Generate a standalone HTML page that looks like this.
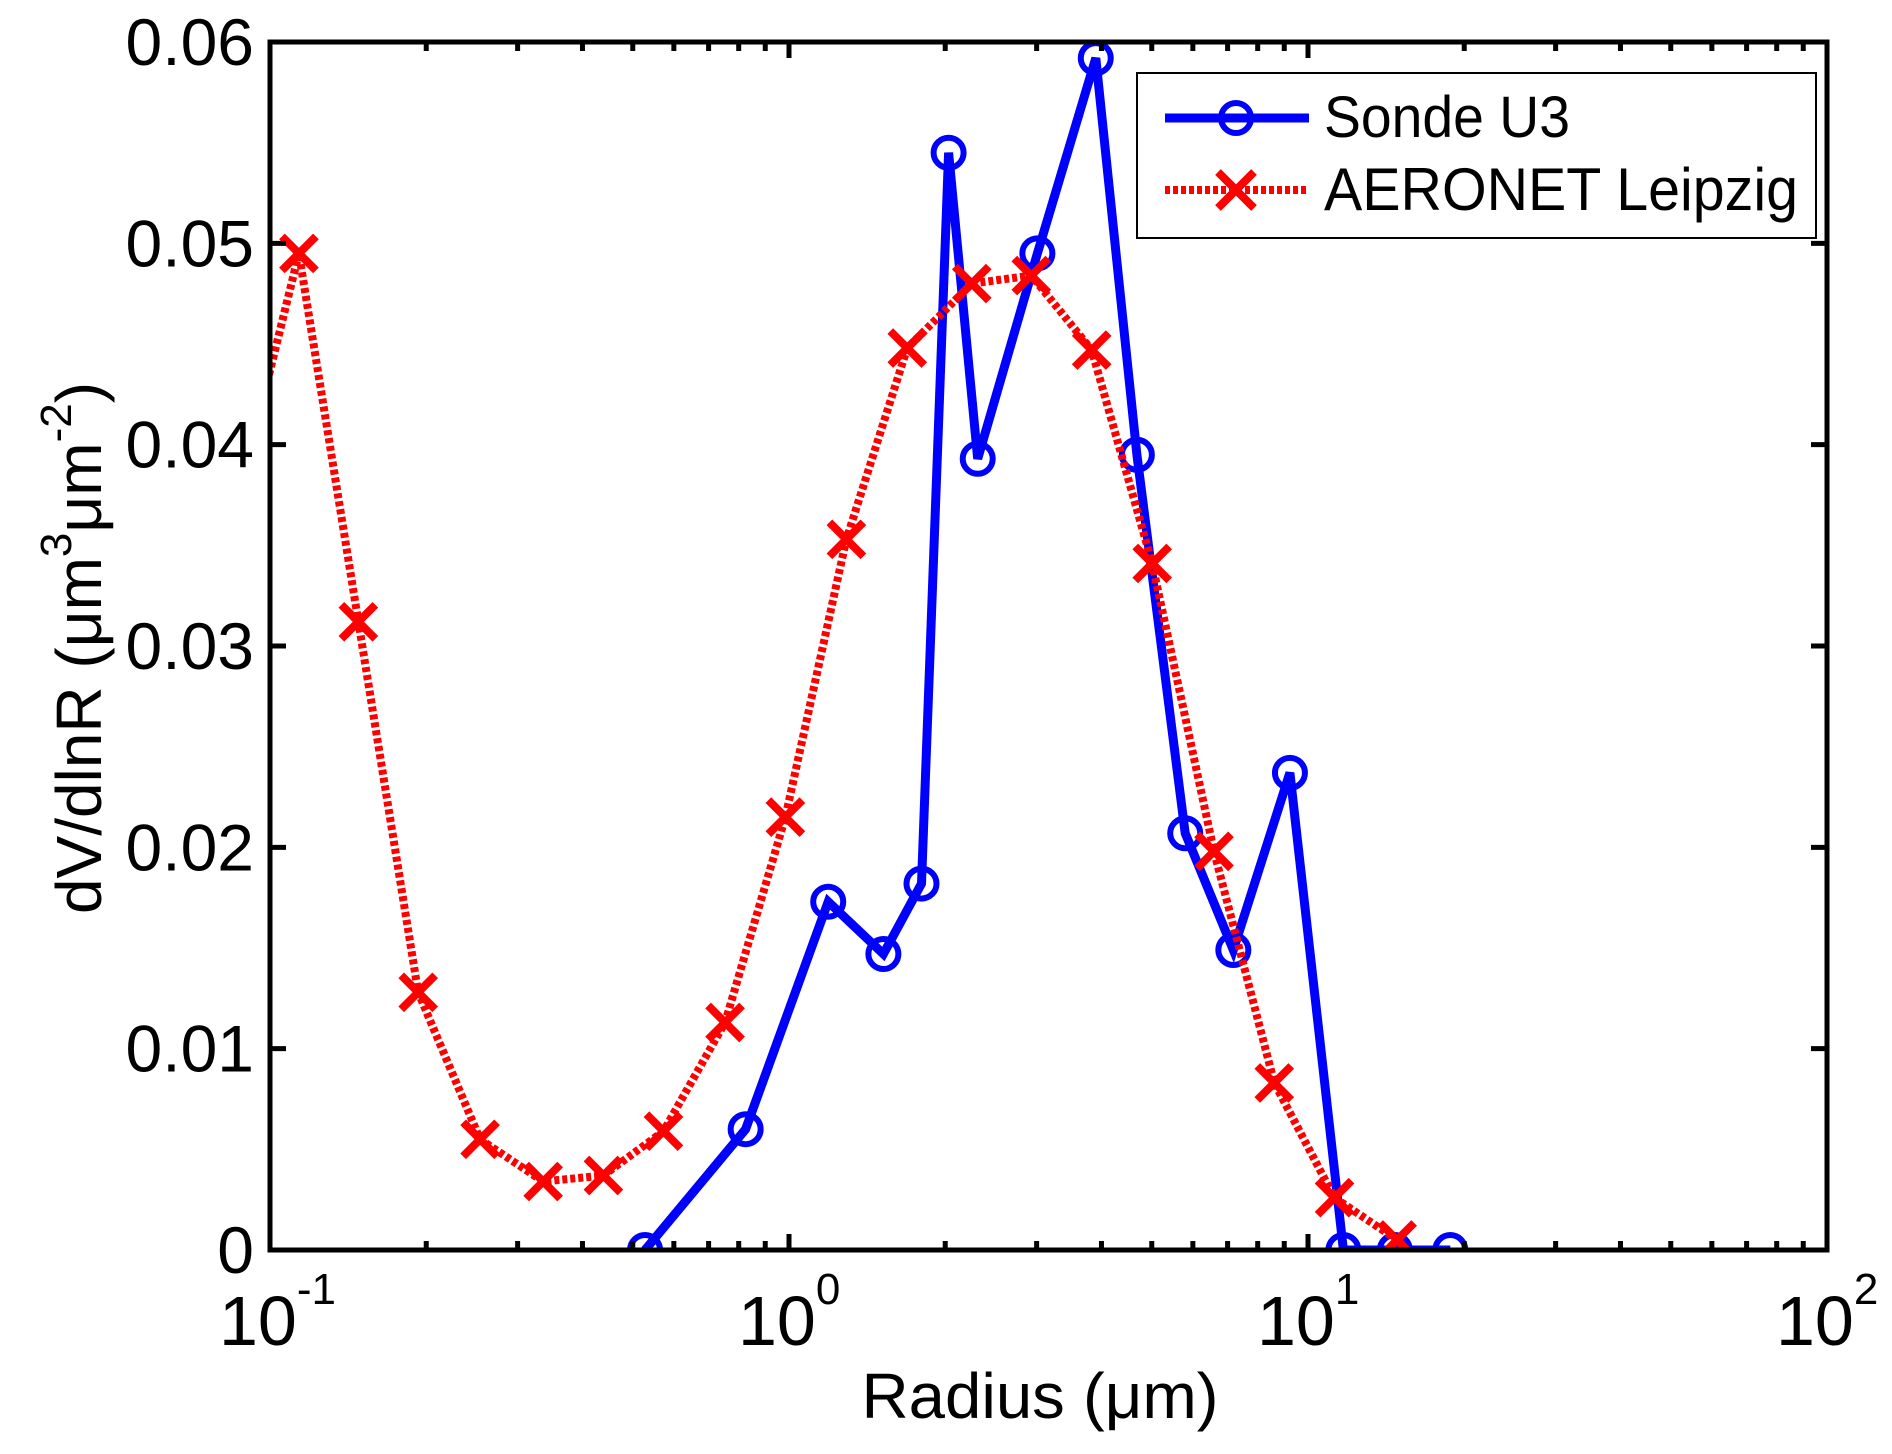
<!DOCTYPE html>
<html><head><meta charset="utf-8"><style>
html,body{margin:0;padding:0;background:#fff;}
svg{display:block;font-family:"Liberation Sans",Arial,sans-serif;}
</style></head><body>
<svg id="chart" width="1892" height="1454" viewBox="0 0 1892 1454" xmlns="http://www.w3.org/2000/svg">
<defs><clipPath id="clip"><rect x="270" y="42" width="1557" height="1208"/></clipPath></defs>
<g id="plot" clip-path="url(#clip)"></g>
<g id="axes"></g>
<g id="legend">
  <rect x="1137" y="73" width="679" height="165" fill="#fff" stroke="#000" stroke-width="2"/>
  <line x1="1165" y1="118" x2="1309" y2="118" stroke="#0000ff" stroke-width="9"/>
  <circle cx="1236" cy="118" r="15" fill="none" stroke="#0000ff" stroke-width="6"/>
  <text x="1324" y="137" font-size="58" textLength="246" lengthAdjust="spacingAndGlyphs">Sonde U3</text>
  <line x1="1165" y1="190" x2="1309" y2="190" stroke="#ff0000" stroke-width="8" stroke-dasharray="5,3"/>
  <path d="M1218 172 L1254 208 M1254 172 L1218 208" stroke="#ff0000" stroke-width="8"/>
  <text x="1324" y="210" font-size="60" textLength="474" lengthAdjust="spacingAndGlyphs">AERONET Leipzig</text>
</g>
<text x="1040" y="1418" font-size="64" text-anchor="middle" textLength="357" lengthAdjust="spacingAndGlyphs">Radius (μm)</text>
<text transform="translate(101,648) rotate(-90)" font-size="64" text-anchor="middle">dV/dlnR (μm<tspan font-size="44" dy="-30">3</tspan><tspan dy="30">μm</tspan><tspan font-size="44" dy="-30">-2</tspan><tspan dy="30">)</tspan></text>
</svg>
<script>
const sondeX = [0.528,0.825,1.19,1.52,1.80,2.03,2.31,3.01,3.90,4.68,5.80,7.18,9.23,11.7,14.7,18.8];
const sondeY = [0,0.0060,0.0173,0.0147,0.0182,0.0545,0.0393,0.0495,0.0592,0.0395,0.0207,0.0149,0.0237,0,0,0];
const aeroX = [0.0869,0.1137,0.148,0.193,0.254,0.336,0.439,0.573,0.753,0.984,1.29,1.69,2.25,2.93,3.83,5.01,6.59,8.61,11.25,14.85];
const aeroY = [0.0373,0.0495,0.0312,0.0128,0.0055,0.0034,0.0037,0.0059,0.0113,0.0215,0.0353,0.0448,0.0480,0.0484,0.0447,0.0341,0.0198,0.0083,0.0026,0.0005];
const yTicks = [0,0.01,0.02,0.03,0.04,0.05,0.06];
const yTickLabels = ["0","0.01","0.02","0.03","0.04","0.05","0.06"];
const xDecades = [-1,0,1,2];

const NS="http://www.w3.org/2000/svg";
const L=270,R=1827,T=42,B=1250;
function sx(v){return L+(Math.log10(v)+1)/3*(R-L);}
function sy(v){return B-v/0.06*(B-T);}
function mk(tag,attrs,parent){const e=document.createElementNS(NS,tag);for(const k in attrs)e.setAttribute(k,attrs[k]);parent.appendChild(e);return e;}
const plot=document.getElementById('plot'),axes=document.getElementById('axes');

let d=sondeX.map((x,i)=>(i?'L':'M')+sx(x).toFixed(1)+' '+sy(sondeY[i]).toFixed(1)).join(' ');
let p=mk('path',{d:d,fill:'none',stroke:'#0000ff','stroke-width':9},plot);


sondeX.forEach((x,i)=>{
  const c=mk('circle',{cx:sx(x),cy:sy(sondeY[i]),r:15,fill:'none',stroke:'#0000ff','stroke-width':6},plot);
  
  
});
d=aeroX.map((x,i)=>(i?'L':'M')+sx(x).toFixed(1)+' '+sy(aeroY[i]).toFixed(1)).join(' ');
p=mk('path',{d:d,fill:'none',stroke:'#ff0000','stroke-width':8,'stroke-dasharray':'5,3'},plot);


aeroX.forEach((x,i)=>{
  const cx=sx(x),cy=sy(aeroY[i]),s=17;
  const m=mk('path',{d:`M${cx-s} ${cy-s}L${cx+s} ${cy+s}M${cx+s} ${cy-s}L${cx-s} ${cy+s}`,stroke:'#ff0000','stroke-width':8},plot);
  
  
});
const box=mk('rect',{x:L,y:T,width:R-L,height:B-T,fill:'none',stroke:'#000','stroke-width':5},axes);


yTicks.forEach((v,i)=>{
  const y=sy(v);
  const t=mk('path',{d:`M${L} ${y}h16M${R} ${y}h-16`,stroke:'#000','stroke-width':5},axes);
  
  
  const tx=mk('text',{x:254,y:y+23,'font-size':66,'text-anchor':'end'},axes);
  tx.textContent=yTickLabels[i];
  
  
});
xDecades.forEach((e,i)=>{
  const x=sx(Math.pow(10,e));
  const t=mk('path',{d:`M${x} ${B}v-16M${x} ${T}v16`,stroke:'#000','stroke-width':5},axes);
  
  
  const tx=mk('text',{x:x-51,y:1345,'font-size':70},axes);
  
  
  tx.appendChild(document.createTextNode('10'));
  const ts=mk('tspan',{'font-size':44,dy:-41},tx);
  ts.textContent=String(e);
  if(i<xDecades.length-1){
    for(let k=2;k<=9;k++){
      const xm=sx(k*Math.pow(10,e));
      const m=mk('path',{d:`M${xm} ${B}v-9M${xm} ${T}v9`,stroke:'#000','stroke-width':5},axes);
      
      
    }
  }
});
</script>
</body></html>
